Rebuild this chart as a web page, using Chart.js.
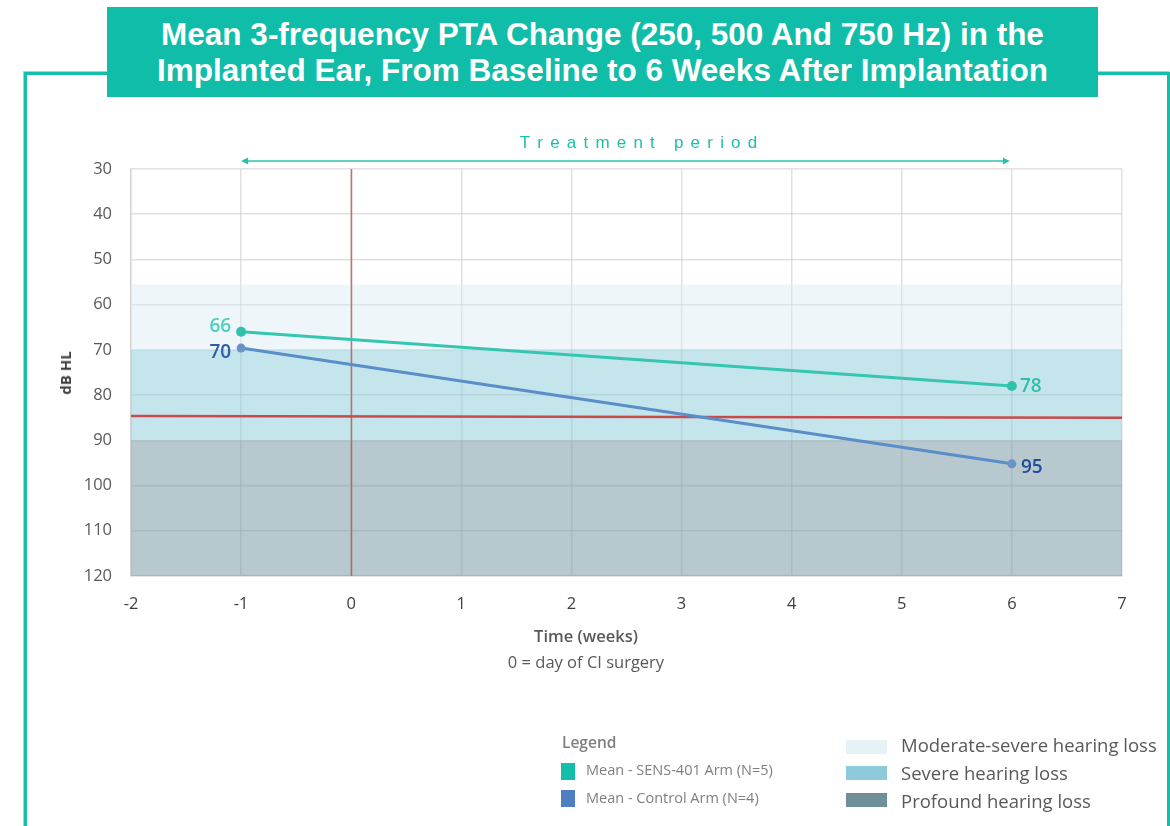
<!DOCTYPE html>
<html>
<head>
<meta charset="utf-8">
<script src="https://cdn.jsdelivr.net/npm/chart.js@4.4.1/dist/chart.umd.min.js"></script>
<style>
  html, body { margin: 0; padding: 0; background: #fff; }
  body { width: 1170px; height: 826px; position: relative; overflow: hidden; font-family: "Open Sans", sans-serif; }
  #frame { position: absolute; left: 24px; top: 72px; width: 1140px; height: 800px;
           border: 3px solid #13bfa8; box-shadow: -1px -1px 0 0 #c4c4c4; }
  #titlebox { position: absolute; left: 107px; top: 7px; width: 991px; height: 90px; background: #0fbda8;
              color: #fff; font-family: "Liberation Sans", Arial, sans-serif; font-weight: bold; font-size: 31.5px;
              line-height: 36px; text-align: center; display: flex; align-items: center; justify-content: center; }
  canvas { position: absolute; left: 0; top: 0; }
  .txt { position: absolute; white-space: nowrap; }
  #ytitle { left: 65px; top: 373px; font-weight: bold; font-size: 15px; color: #404040;
            transform: translate(-50%, -50%) rotate(-90deg); }
  #xtitle { left: 586px; top: 624px; transform: translateX(-50%); font-weight: 600; font-size: 16.5px; color: #595959; }
  #xsub { left: 586px; top: 650px; transform: translateX(-50%); font-size: 16.5px; color: #595959; }
  #legtitle { left: 562px; top: 731px; font-weight: 600; font-size: 15.5px; color: #7f7f7f; }
  .sw { position: absolute; }
  .lt { position: absolute; font-size: 14.5px; color: #7f7f7f; white-space: nowrap; }
  .lt2 { position: absolute; font-size: 18.5px; color: #595959; white-space: nowrap; }
</style>
</head>
<body>
<div id="frame"></div>
<div id="titlebox"><span>Mean 3-frequency PTA Change (250, 500 And 750 Hz) in the<br>Implanted Ear, From Baseline to 6 Weeks After Implantation</span></div>
<canvas id="c" width="1170" height="826"></canvas>
<div class="txt" id="ytitle">dB HL</div>
<div class="txt" id="xtitle">Time (weeks)</div>
<div class="txt" id="xsub">0 = day of CI surgery</div>
<div class="txt" id="legtitle">Legend</div>
<div class="sw" style="left:561px;top:763px;width:14px;height:17px;background:#13bfa8"></div>
<div class="lt" style="left:586px;top:760px">Mean - SENS-401 Arm (N=5)</div>
<div class="sw" style="left:561px;top:790px;width:14px;height:17px;background:#4f7fc0"></div>
<div class="lt" style="left:586px;top:788px">Mean - Control Arm (N=4)</div>
<div class="sw" style="left:846px;top:740px;width:41px;height:14px;background:#e6f2f6"></div>
<div class="lt2" style="left:901px;top:732px">Moderate-severe hearing loss</div>
<div class="sw" style="left:846px;top:766px;width:41px;height:14px;background:#8dcadb"></div>
<div class="lt2" style="left:901px;top:760px">Severe hearing loss</div>
<div class="sw" style="left:846px;top:793px;width:41px;height:14px;background:#6f8f99"></div>
<div class="lt2" style="left:901px;top:788px">Profound hearing loss</div>
<script>
// ---- data ----
const weeks = [-1, 6];
const sensValues = [66, 78];
const controlValues = [69.6, 95.2];
const sensLabels = ["66", "78"];
const controlLabels = ["70", "95"];
const xTicks = [-2, -1, 0, 1, 2, 3, 4, 5, 6, 7];
const yTicks = [30, 40, 50, 60, 70, 80, 90, 100, 110, 120];
const bandNames = ["Moderate-severe hearing loss", "Severe hearing loss", "Profound hearing loss"];
const bandFrom = [55.5, 70, 90];
const bandTo = [70, 90, 120];
const refLineX = [-2, 7];
const refLineY = [84.6, 85];
const surgeryWeek = [0];
const treatmentPeriod = [-1, 6];
const treatmentLabel = "Treatment period";

const bandColors = ["rgba(218,234,243,0.42)", "rgba(140,203,219,0.5)", "rgba(124,155,166,0.55)"];

const bandsPlugin = {
  id: 'bands',
  beforeDatasetsDraw(chart) {
    const {ctx, chartArea, scales: {x, y}} = chart;
    ctx.save();
    for (let i = 0; i < bandFrom.length; i++) {
      const y1 = y.getPixelForValue(bandFrom[i]);
      const y2 = y.getPixelForValue(bandTo[i]);
      ctx.fillStyle = bandColors[i];
      ctx.fillRect(chartArea.left, y1, chartArea.right - chartArea.left, y2 - y1);
    }
    ctx.strokeStyle = "rgba(195,80,80,0.8)";
    ctx.lineWidth = 1.5;
    surgeryWeek.forEach(w => {
      const px = Math.round(x.getPixelForValue(w)) + 0.5;
      ctx.beginPath(); ctx.moveTo(px, chartArea.top); ctx.lineTo(px, chartArea.bottom); ctx.stroke();
    });
    ctx.restore();
  },
  afterDatasetsDraw(chart) {
    const {ctx, scales: {x, y}} = chart;
    ctx.save();
    ctx.font = "600 19px 'Open Sans', sans-serif";
    ctx.textBaseline = "middle";
    const m0 = chart.getDatasetMeta(1).data;
    const m1 = chart.getDatasetMeta(2).data;
    ctx.textAlign = "right";
    ctx.fillStyle = "#4fd0bd"; ctx.fillText(sensLabels[0], m0[0].x - 10, m0[0].y - 5);
    ctx.fillStyle = "#2b5ea8"; ctx.fillText(controlLabels[0], m1[0].x - 10, m1[0].y + 5);
    ctx.textAlign = "left";
    ctx.fillStyle = "#2bbfa8"; ctx.fillText(sensLabels[1], m0[1].x + 8, m0[1].y + 1);
    ctx.fillStyle = "#1f4f96"; ctx.fillText(controlLabels[1], m1[1].x + 9, m1[1].y + 4);
    // treatment arrow
    const xa = x.getPixelForValue(treatmentPeriod[0]);
    const xb = x.getPixelForValue(treatmentPeriod[1]);
    const ya = 161;
    ctx.strokeStyle = "#62d3c3"; ctx.fillStyle = "#2bbfa8"; ctx.lineWidth = 2;
    ctx.beginPath(); ctx.moveTo(xa + 4, ya); ctx.lineTo(xb - 4, ya); ctx.stroke();
    ctx.beginPath(); ctx.moveTo(xa, ya); ctx.lineTo(xa + 7, ya - 3.5); ctx.lineTo(xa + 7, ya + 3.5); ctx.closePath(); ctx.fill();
    ctx.beginPath(); ctx.moveTo(xb - 2, ya); ctx.lineTo(xb - 9, ya - 3.5); ctx.lineTo(xb - 9, ya + 3.5); ctx.closePath(); ctx.fill();
    ctx.font = "17px 'Liberation Sans', Arial, sans-serif";
    ctx.fillStyle = "#1fbea8";
    ctx.textAlign = "left"; ctx.textBaseline = "middle";
    const spacing = 7.2;
    const chars = treatmentLabel.split("");
    let total = 0;
    chars.forEach(c => total += ctx.measureText(c).width + spacing);
    total -= spacing;
    let cx = (xa + xb) / 2 - total / 2 + 12;
    chars.forEach(c => { ctx.fillText(c, cx, 143); cx += ctx.measureText(c).width + spacing; });
    ctx.restore();
  }
};

new Chart(document.getElementById('c'), {
  type: 'line',
  data: {
    datasets: [
      { label: 'Reference', data: refLineX.map((v, i) => ({x: v, y: refLineY[i]})),
        borderColor: '#c94a4a', borderWidth: 2.5, pointRadius: 0, fill: false, order: 3 },
      { label: 'Mean - SENS-401 Arm (N=5)', data: weeks.map((w, i) => ({x: w, y: sensValues[i]})),
        borderColor: '#35c6b1', backgroundColor: '#2cc2ac', borderWidth: 3, pointRadius: 5, pointBorderWidth: 0, order: 1 },
      { label: 'Mean - Control Arm (N=4)', data: weeks.map((w, i) => ({x: w, y: controlValues[i]})),
        borderColor: '#5a8ec8', backgroundColor: '#6893c6', borderWidth: 3, pointRadius: 4.5, pointBorderWidth: 0, order: 2 }
    ]
  },
  options: {
    responsive: false,
    animation: false,
    events: [],
    layout: { padding: { left: 41, right: 48, top: 169, bottom: 200 } },
    plugins: { legend: { display: false }, tooltip: { enabled: false } },
    scales: {
      x: {
        type: 'linear', min: xTicks[0], max: xTicks[xTicks.length - 1],
        afterBuildTicks: s => { s.ticks = xTicks.map(v => ({value: v})); },
        afterFit: s => { s.height = 50; },
        grid: { color: 'rgba(200,200,200,0.55)', lineWidth: 1.5, drawTicks: false },
        border: { display: true, color: 'rgba(200,200,200,0.55)', width: 1.5 },
        ticks: { padding: 18, color: '#404040', font: { family: "'Open Sans', sans-serif", size: 16.5 } }
      },
      y: {
        type: 'linear', reverse: true, min: yTicks[0], max: yTicks[yTicks.length - 1],
        afterBuildTicks: s => { s.ticks = yTicks.map(v => ({value: v})); },
        afterFit: s => { s.width = 90; },
        grid: { color: 'rgba(200,200,200,0.55)', lineWidth: 1.5, drawTicks: false },
        border: { display: true, color: 'rgba(200,200,200,0.55)', width: 1.5 },
        ticks: { padding: 19, color: '#595959', font: { family: "'Open Sans', sans-serif", size: 16.5 } }
      }
    }
  },
  plugins: [bandsPlugin]
});
</script>
</body>
</html>
